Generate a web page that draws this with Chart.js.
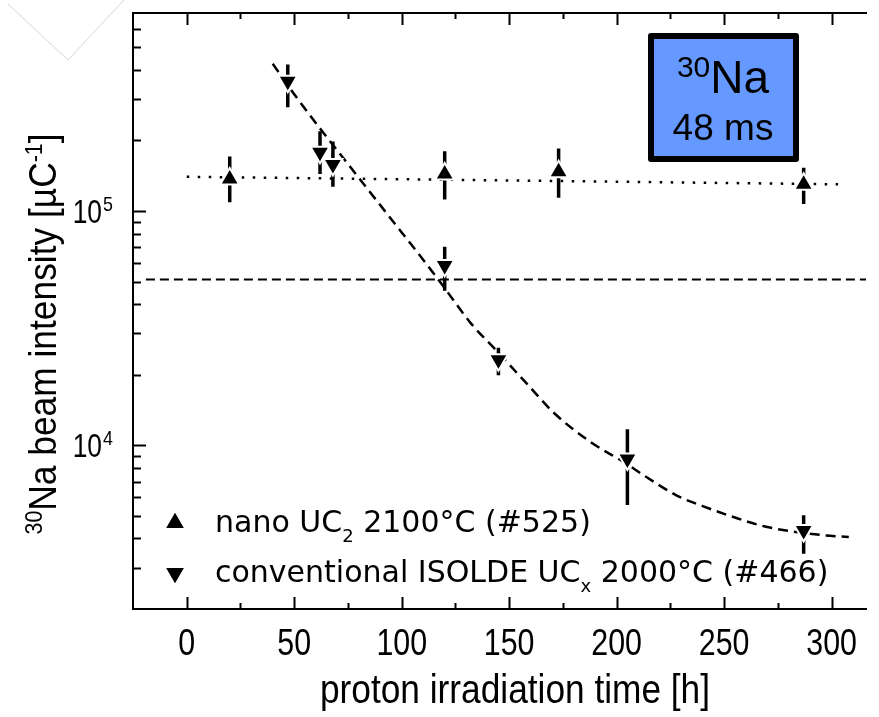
<!DOCTYPE html>
<html>
<head>
<meta charset="utf-8">
<title>30Na beam intensity</title>
<script src="https://cdn.jsdelivr.net/npm/chart.js@4/dist/chart.umd.min.js"></script>
<style>
  html, body { margin: 0; padding: 0; background: #fff; overflow: hidden; }
  canvas { display: block; }
</style>
</head>
<body>
<canvas id="c" width="879" height="717"></canvas>
<script>
// ---- data --------------------------------------------------------------------
const nanoTime    = [20, 120, 173, 287];
const nanoYield   = [1.37e5, 1.44e5, 1.47e5, 1.30e5];
const nanoErrLow  = [1.09e5, 1.12e5, 1.14e5, 1.07e5];
const nanoErrHigh = [1.71e5, 1.80e5, 1.85e5, 1.53e5];

const convTime    = [47, 62, 68, 120, 145, 205, 287];
const convYield   = [3.58e5, 1.78e5, 1.58e5, 5.85e4, 2.32e4, 8.74e3, 4.33e3];
const convErrLow  = [2.77e5, 1.44e5, 1.27e5, 4.57e4, 1.99e4, 5.56e3, 3.44e3];
const convErrHigh = [4.22e5, 2.19e5, 1.98e5, 7.03e4, 2.61e4, 1.17e4, 5.03e3];

// fit lines
const nanoFitTime  = [0, 303];
const nanoFitYield = [1.40e5, 1.30e5];
const convFitTime  = [40, 50, 63, 74, 86, 100, 114, 121, 132, 144, 158, 171, 188, 204, 214, 228, 240, 254, 269, 295, 308];
const convFitYield = [4.25e5, 3.15e5, 2.19e5, 1.63e5, 1.18e5, 8.1e4, 5.55e4, 4.55e4, 3.33e4, 2.54e4, 1.84e4, 1.37e4,
                      1.03e4, 8.4e3, 7.3e3, 6.1e3, 5.5e3, 4.95e3, 4.5e3, 4.14e3, 4.06e3];
const levelTime    = [-19, 320];
const levelYield   = [5.1e4, 5.1e4];

// axes
const xMin = -25, xMax = 316;
const yMin = 2000, yMax = 7e5;
const xMajorTicks = [0, 50, 100, 150, 200, 250, 300];
const xMinorTicks = [25, 75, 125, 175, 225, 275];
const yMajorTicks = [1e4, 1e5];
const yExponents  = ['4', '5'];
const yMinorTicks = [3e3, 4e3, 5e3, 6e3, 7e3, 8e3, 9e3, 2e4, 3e4, 4e4, 5e4, 6e4, 7e4, 8e4, 9e4, 2e5, 3e5, 4e5, 5e5, 6e5];

const seriesLabels = ['nano UC₂ 2100°C (#525)', 'conventional ISOLDE UCₓ 2000°C (#466)'];
const legendParts  = [['nano UC', '2', ' 2100°C (#525)'], ['conventional ISOLDE UC', 'x', ' 2000°C (#466)']];

const AXIS_FONT = '"Liberation Sans", Arial, sans-serif';
const LEG_FONT = '"DejaVu Sans", Verdana, sans-serif';

// ---- helpers -----------------------------------------------------------------
const pts = (xs, ys) => xs.map((x, i) => ({ x, y: ys[i] }));
function errSegments(xs, lo, hi) {
  const out = [];
  xs.forEach((x, i) => { out.push({ x, y: lo[i] }, { x, y: hi[i] }, { x, y: null }); });
  return out;
}

// draw text with optional horizontal squeeze, returns advance width
function txt(ctx, s, x, y, size, family, sx = 1, align = 'left') {
  ctx.save();
  ctx.font = `${size}px ${family}`;
  const w = ctx.measureText(s).width * sx;
  let ox = x;
  if (align === 'center') ox = x - w / 2;
  if (align === 'right') ox = x - w;
  ctx.translate(ox, y);
  ctx.scale(sx, 1);
  ctx.textAlign = 'left';
  ctx.textBaseline = 'alphabetic';
  ctx.fillText(s, 0, 0);
  ctx.restore();
  return w;
}
function measure(ctx, s, size, family, sx = 1) {
  ctx.save(); ctx.font = `${size}px ${family}`;
  const w = ctx.measureText(s).width * sx; ctx.restore();
  return w;
}

// ---- overlay: ticks, labels, titles, legend, nuclide box ------------------------
const overlay = {
  id: 'overlay',
  beforeDraw(chart) {
    // faint slide decoration in the top-left corner
    const ctx = chart.ctx;
    ctx.save();
    ctx.strokeStyle = '#d6d6d6';
    ctx.lineWidth = 1;
    ctx.beginPath();
    ctx.moveTo(8, 4); ctx.lineTo(68, 60); ctx.lineTo(124, 0);
    ctx.stroke();
    ctx.restore();
  },
  afterDraw(chart) {
    const { ctx, chartArea: a } = chart;
    const x = chart.scales.x, y = chart.scales.y;
    ctx.save();
    ctx.fillStyle = '#000';
    ctx.strokeStyle = '#000';
    ctx.lineWidth = 2;
    ctx.lineCap = 'butt';

    // inward tick marks, top and bottom
    const xTick = (v, len) => {
      const px = Math.round(x.getPixelForValue(v)) + 0.5;
      ctx.beginPath();
      ctx.moveTo(px, a.bottom); ctx.lineTo(px, a.bottom - len);
      ctx.moveTo(px, a.top); ctx.lineTo(px, a.top + len);
      ctx.stroke();
    };
    xMajorTicks.forEach(v => xTick(v, 12));
    xMinorTicks.forEach(v => xTick(v, 6));

    const yTick = (v, len) => {
      const py = Math.round(y.getPixelForValue(v)) + 0.5;
      ctx.beginPath();
      ctx.moveTo(a.left, py); ctx.lineTo(a.left + len, py);
      ctx.stroke();
    };
    yMajorTicks.forEach(v => yTick(v, 13));
    yMinorTicks.forEach(v => yTick(v, 8));

    // x tick labels
    xMajorTicks.forEach(v => {
      txt(ctx, String(v), x.getPixelForValue(v), a.bottom + 46, 37, AXIS_FONT, 0.82, 'center');
    });
    // y tick labels 10^n
    yMajorTicks.forEach((v, i) => {
      const py = y.getPixelForValue(v);
      txt(ctx, '10', a.left - 31, py + 12, 33, AXIS_FONT, 0.8, 'right');
      txt(ctx, yExponents[i], a.left - 30, py, 21, AXIS_FONT, 0.85, 'left');
    });

    // x title
    txt(ctx, 'proton irradiation time [h]', 515, 703, 41, AXIS_FONT, 0.86, 'center');

    // y title, rotated, with superscripts
    ctx.save();
    ctx.translate(56, 334);
    ctx.rotate(-Math.PI / 2);
    const big = 38, small = 23, sy = 0.93;
    const parts = [
      ['30', small, -14], ['Na beam intensity [µC', big, 0], ['-1', small, -14], [']', big, 0]
    ];
    const total = parts.reduce((s, p) => s + measure(ctx, p[0], p[1], AXIS_FONT, sy), 0);
    let cx = -total / 2;
    parts.forEach(p => { cx += txt(ctx, p[0], cx, p[2], p[1], AXIS_FONT, sy); });
    ctx.restore();

    // legend
    const lx = 175, ly = [523, 573];
    chart.data.datasets.filter(d => d.isSeries).forEach((d, i) => {
      Chart.helpers.drawPoint(ctx, { pointStyle: 'triangle', radius: 10, rotation: d.pointRotation, borderWidth: 0 }, lx, ly[i]);
      ctx.fill();
      const [a1, sub, a2] = legendParts[i];
      let tx = 215;
      const base = ly[i] + 9;
      tx += txt(ctx, a1, tx, base, 30, LEG_FONT);
      tx += txt(ctx, sub, tx, base + 10, 18, LEG_FONT);
      txt(ctx, a2, tx, base, 30, LEG_FONT);
    });

    // nuclide box
    const bx = 651, by = 36, bw = 145, bh = 123;
    ctx.fillStyle = '#6699ff';
    ctx.fillRect(bx, by, bw, bh);
    ctx.lineWidth = 6;
    ctx.lineJoin = 'round';
    ctx.strokeStyle = '#000';
    ctx.strokeRect(bx, by, bw, bh);
    ctx.fillStyle = '#000';
    const w30 = measure(ctx, '30', 30, AXIS_FONT), wNa = measure(ctx, 'Na', 46, AXIS_FONT);
    let nx = 723 - (w30 + wNa) / 2;
    nx += txt(ctx, '30', nx, 77, 30, AXIS_FONT);
    txt(ctx, 'Na', nx, 93, 46, AXIS_FONT);
    txt(ctx, '48 ms', 723, 140, 37, AXIS_FONT, 1, 'center');

    ctx.restore();
  }
};

// ---- chart -------------------------------------------------------------------
new Chart(document.getElementById('c'), {
  type: 'scatter',
  data: {
    datasets: [
      {
        label: seriesLabels[0], isSeries: true, order: 0,
        data: pts(nanoTime, nanoYield),
        pointStyle: 'triangle', pointRotation: 0, pointRadius: 11,
        backgroundColor: '#000', borderColor: '#fff', pointBorderWidth: 2
      },
      {
        label: seriesLabels[1], isSeries: true, order: 0,
        data: pts(convTime, convYield),
        pointStyle: 'triangle', pointRotation: 180, pointRadius: 11,
        backgroundColor: '#000', borderColor: '#fff', pointBorderWidth: 2
      },
      {
        label: 'nano error', type: 'line', order: 1,
        data: errSegments(nanoTime, nanoErrLow, nanoErrHigh),
        borderColor: '#000', borderWidth: 3.5, pointRadius: 0, spanGaps: false
      },
      {
        label: 'conv error', type: 'line', order: 1,
        data: errSegments(convTime, convErrLow, convErrHigh),
        borderColor: '#000', borderWidth: 3.5, pointRadius: 0, spanGaps: false
      },
      {
        label: 'nano fit', type: 'line', order: 2,
        data: pts(nanoFitTime, nanoFitYield),
        borderColor: '#000', borderWidth: 2.5, borderDash: [2.5, 8.5], pointRadius: 0
      },
      {
        label: 'conventional fit', type: 'line', order: 2,
        data: pts(convFitTime, convFitYield),
        borderColor: '#000', borderWidth: 2.5, borderDash: [10, 6], pointRadius: 0,
        cubicInterpolationMode: 'monotone'
      },
      {
        label: 'level', type: 'line', order: 2,
        data: pts(levelTime, levelYield),
        borderColor: '#000', borderWidth: 2, borderDash: [9, 5], pointRadius: 0
      }
    ]
  },
  options: {
    responsive: false,
    animation: false,
    devicePixelRatio: 1,
    layout: { padding: { left: 133, top: 12, right: 0, bottom: 108 } },
    plugins: { legend: { display: false }, tooltip: { enabled: false } },
    scales: {
      x: {
        type: 'linear', position: 'bottom', min: xMin, max: xMax, bounds: 'data',
        ticks: { display: false }, grid: { display: false, drawTicks: false },
        border: { display: true, color: '#000', width: 2 }
      },
      xTop: {
        type: 'linear', position: 'top', min: xMin, max: xMax, bounds: 'data',
        ticks: { display: false }, grid: { display: false, drawTicks: false },
        border: { display: true, color: '#000', width: 2 }
      },
      y: {
        type: 'logarithmic', position: 'left', min: yMin, max: yMax, bounds: 'data',
        ticks: { display: false }, grid: { display: false, drawTicks: false },
        border: { display: true, color: '#000', width: 2 }
      }
    }
  },
  plugins: [overlay]
});
</script>
</body>
</html>
